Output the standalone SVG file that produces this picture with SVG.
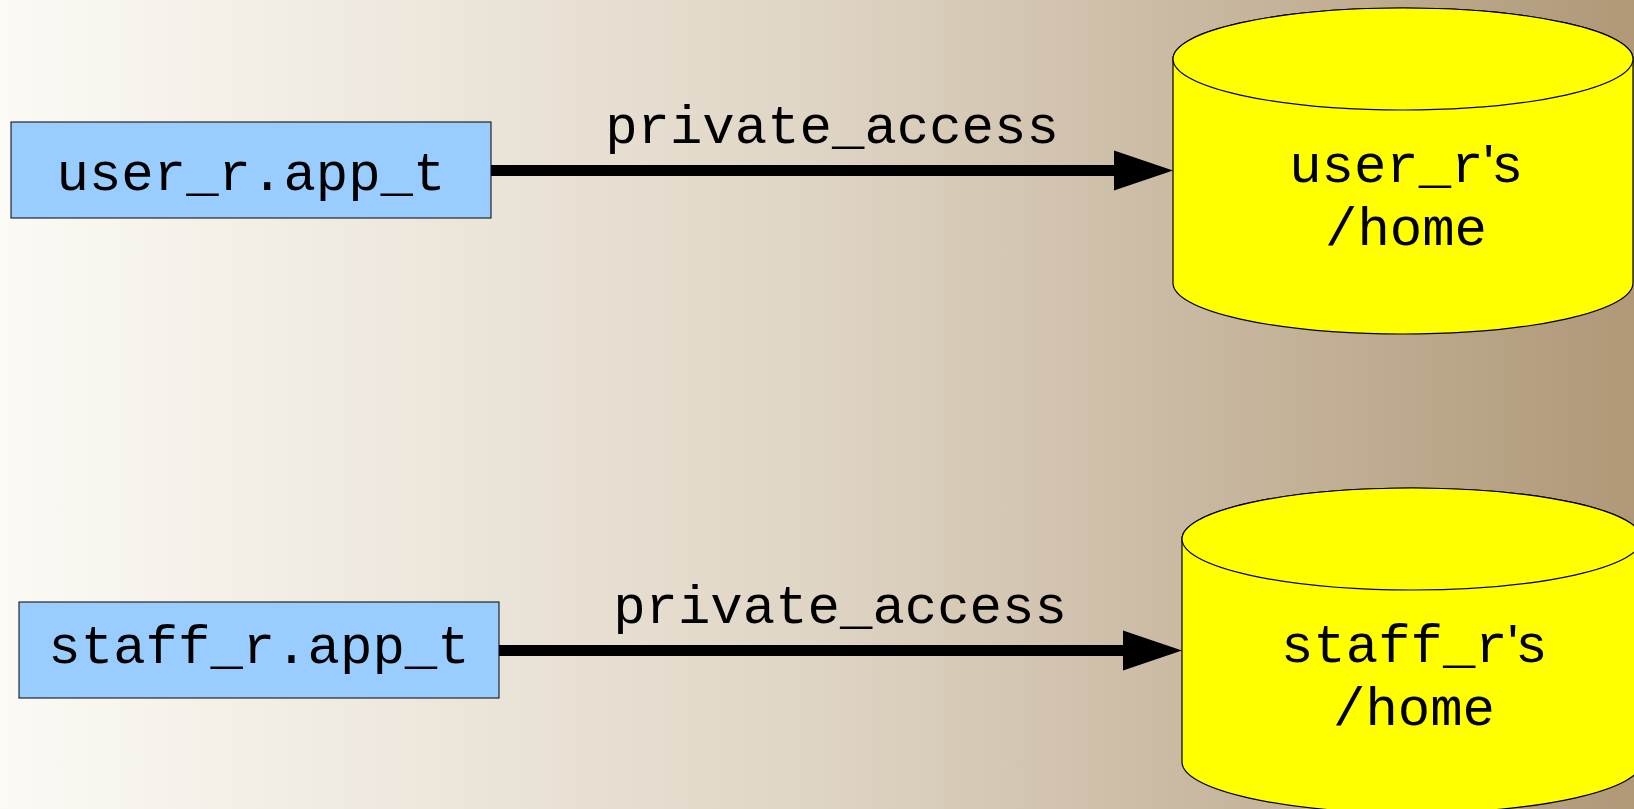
<svg xmlns="http://www.w3.org/2000/svg" width="1634" height="809" viewBox="0 0 1634 809">
  <defs>
    <linearGradient id="bg" x1="0" y1="0" x2="1" y2="0">
      <stop offset="0" stop-color="#fcfaf5"/>
      <stop offset="0.5" stop-color="#dfd5c5"/>
      <stop offset="1" stop-color="#b09878"/>
    </linearGradient>
    <marker id="arrow" markerUnits="userSpaceOnUse" markerWidth="60" markerHeight="41" refX="0" refY="20" orient="auto" overflow="visible">
      <path d="M0,0 L59,20 L0,40 Z" fill="#000"/>
    </marker>
    <style>
      .box { fill: #99ccff; stroke: #000; stroke-width: 1; }
      .cyl { fill: #ffff00; stroke: #000; stroke-width: 1.2; }
      .edge { stroke: #000; stroke-width: 11; fill: none; marker-end: url(#arrow); }
      .t { font-family: "Liberation Mono", "Courier New", monospace; font-size: 54px; fill: #000; text-anchor: middle; }
      .s { font-family: "Liberation Sans", Arial, sans-serif; }
    </style>
  </defs>

  <rect x="0" y="0" width="1634" height="809" fill="url(#bg)"/>

  <g id="connectors">
    <g id="edge1">
      <line class="edge" x1="491" y1="170.5" x2="1114" y2="170.5"/>
      <text class="t" x="832" y="143">private_access</text>
    </g>
    <g id="edge2">
      <line class="edge" x1="499" y1="650.5" x2="1123" y2="650.5"/>
      <text class="t" x="840" y="623">private_access</text>
    </g>
  </g>

  <g id="user_app">
    <rect class="box" x="11" y="122" width="480" height="96"/>
    <text class="t" x="251" y="190">user_r.app_t</text>
  </g>

  <g id="staff_app">
    <rect class="box" x="19" y="602" width="480" height="96"/>
    <text class="t" x="259" y="663">staff_r.app_t</text>
  </g>

  <g id="user_home">
    <path class="cyl" d="M1173,59 V283 A230,51 0 0 0 1633,283 V59 A230,51 0 0 0 1173,59 Z"/>
    <ellipse class="cyl" cx="1403" cy="59" rx="230" ry="51"/>
    <text class="t" x="1405" y="182">user_r<tspan class="s">'s</tspan></text>
    <text class="t" x="1406" y="245">/home</text>
  </g>

  <g id="staff_home">
    <path class="cyl" d="M1182,539 V762 A230,51 0 0 0 1642,762 V539 A230,51 0 0 0 1182,539 Z"/>
    <ellipse class="cyl" cx="1412" cy="539" rx="230" ry="51"/>
    <text class="t" x="1413" y="662">staff_r<tspan class="s">'s</tspan></text>
    <text class="t" x="1414" y="725">/home</text>
  </g>
</svg>
